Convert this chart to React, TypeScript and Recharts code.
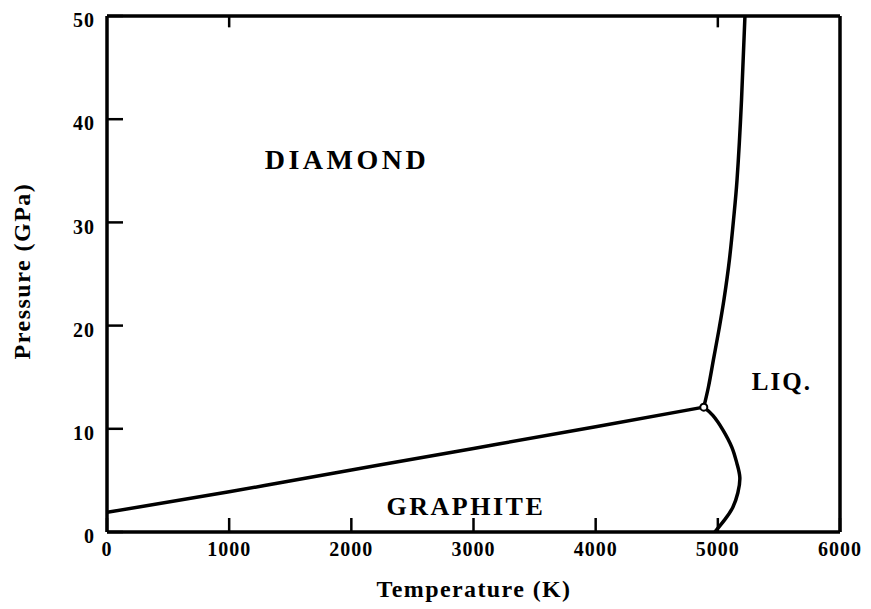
import { ComposedChart, Line, XAxis, YAxis, ReferenceDot, ReferenceLine } from 'recharts';

// carbon phase diagram: temperature (K) vs pressure (GPa)
const xTicks = [0, 1000, 2000, 3000, 4000, 5000, 6000];
const yTicks = [0, 10, 20, 30, 40, 50];
const topMarks = [1000, 5000];

// graphite / diamond boundary
const boundaryT = [0, 1000, 2000, 3000, 4000, 4885];
const boundaryP = [1.9, 3.9, 6.0, 8.1, 10.2, 12.1];

// diamond melting curve
const diamondMeltT = [4885, 4923, 4964, 5009, 5050, 5095, 5128, 5157, 5194, 5222];
const diamondMeltP = [12.1, 14.05, 16.7, 19.6, 22.5, 26.4, 30.2, 34.1, 41.9, 50];

// graphite melting curve
const graphiteMeltT = [4885, 4959, 5041, 5115, 5155, 5180, 5164, 5123, 5057, 4975];
const graphiteMeltP = [12.1, 11.3, 9.9, 8.2, 6.7, 5.3, 3.8, 2.4, 1.2, 0];

const triplePoint = { t: 4885, p: 12.1 };

const regions = [
  { name: 'DIAMOND', t: 1964, p: 36.1, size: 28, spacing: 3.5 },
  { name: 'GRAPHITE', t: 2938, p: 2.5, size: 26, spacing: 2.5 },
  { name: 'LIQ.', t: 5524, p: 14.6, size: 25, spacing: 2 },
];

const zip = (ts: number[], ps: number[]) => ts.map((t, i) => ({ t, p: ps[i] }));

const boundary = zip(boundaryT, boundaryP);
const diamondMelt = zip(diamondMeltT, diamondMeltP);
const graphiteMelt = zip(graphiteMeltT, graphiteMeltP);

const font = '"Liberation Serif", "Times New Roman", serif';
const tickStyle = { fontFamily: font, fontWeight: 700, fontSize: 20, fill: '#000', letterSpacing: 1 };

const frame = { stroke: '#000', strokeWidth: 3.5 };
const mark = { stroke: '#000', strokeWidth: 2.5 };

export default function App() {
  return (
    <div style={{ position: 'absolute', left: 0, top: 0, background: '#fff' }}>
      <ComposedChart
        width={871}
        height={609}
        margin={{ top: 16, right: 31, left: 0, bottom: 0 }}
      >
        <XAxis
          dataKey="t"
          type="number"
          domain={[0, 6000]}
          ticks={xTicks}
          height={77}
          allowDataOverflow
          axisLine={frame}
          tickLine={mark}
          tickSize={-14}
          tickMargin={24}
          tick={tickStyle}
          label={{
            content: () => (
              <text
                x={474}
                y={597}
                textAnchor="middle"
                style={{ fontFamily: font, fontWeight: 700, fontSize: 24, letterSpacing: 1.4 }}
              >
                Temperature (K)
              </text>
            ),
          }}
        />
        <YAxis
          type="number"
          domain={[0, 50]}
          ticks={yTicks}
          width={107}
          allowDataOverflow
          axisLine={frame}
          tickLine={mark}
          tickSize={-16}
          tickMargin={28}
          tick={{ ...tickStyle, dy: 4 }}
          label={{
            content: () => (
              <text
                x={30}
                y={271}
                transform="rotate(-90 30 271)"
                textAnchor="middle"
                style={{ fontFamily: font, fontWeight: 700, fontSize: 24, letterSpacing: 1.5 }}
              >
                Pressure (GPa)
              </text>
            ),
          }}
        />
        <ReferenceLine y={50} {...frame} />
        <ReferenceLine x={6000} {...frame} />
        {topMarks.map((t) => (
          <ReferenceLine key={t} segment={[{ x: t, y: 50 }, { x: t, y: 48.9 }]} {...mark} />
        ))}
        <Line
          data={boundary}
          dataKey="p"
          type="natural"
          stroke="#000"
          strokeWidth={3.5}
          dot={false}
          activeDot={false}
          isAnimationActive={false}
        />
        <Line
          data={diamondMelt}
          dataKey="p"
          type="monotone"
          stroke="#000"
          strokeWidth={3.5}
          dot={false}
          activeDot={false}
          isAnimationActive={false}
        />
        <Line
          data={graphiteMelt}
          dataKey="p"
          type="natural"
          stroke="#000"
          strokeWidth={3.5}
          dot={false}
          activeDot={false}
          isAnimationActive={false}
        />
        {regions.map((r) => (
          <ReferenceDot
            key={r.name}
            x={r.t}
            y={r.p}
            r={0}
            fill="none"
            stroke="none"
            label={{
              value: r.name,
              position: 'center',
              style: { fontFamily: font, fontWeight: 700, fontSize: r.size, letterSpacing: r.spacing, fill: '#000' },
            }}
          />
        ))}
        <ReferenceDot x={triplePoint.t} y={triplePoint.p} r={3.5} fill="#fff" stroke="#000" strokeWidth={2} />
      </ComposedChart>
    </div>
  );
}
